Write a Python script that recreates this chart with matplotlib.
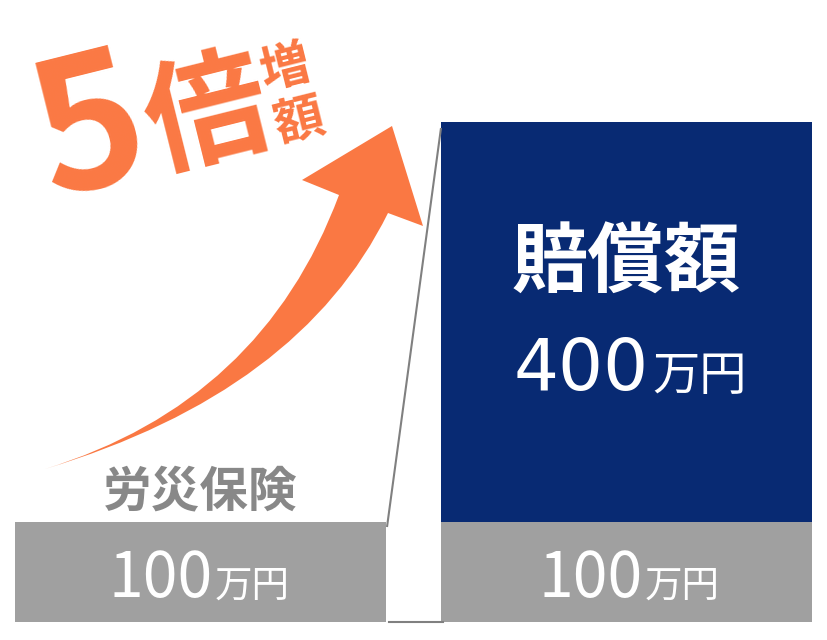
import numpy as np
import matplotlib.pyplot as plt
from matplotlib.path import Path
from matplotlib.patches import PathPatch

plt.rcParams['font.family'] = ['Noto Sans CJK JP', 'DejaVu Sans']

# ============================================================
# データ (万円)
# ============================================================
base_vals = [100, 100]        # 労災保険 / 賠償額の下段
extra_vals = [0, 400]         # 賠償額の上乗せ
base_labels = ['100', '100']
extra_label = '400'
unit = '万円'

# 色
GRAY = '#a0a0a0'
NAVY = '#082a73'
ORANGE = '#fa7843'
TEXT_GRAY = '#888888'

# 画像は 828x640 px, 縦軸は 1万円 = 1px, 0 が y=622px
fig = plt.figure(figsize=(8.28, 6.4), dpi=100)
ax = fig.add_axes([0, 0, 1, 1])
ax.set_xlim(0, 828)
ax.set_ylim(-18, 622)
ax.axis('off')


def py(y):
    # 画像の y(px) -> データ座標
    return 622 - y


x_pos = [200.5, 626.5]
bar_w = 371

ax.bar(x_pos, base_vals, width=bar_w, color=GRAY, bottom=0)
ax.bar(x_pos, extra_vals, width=bar_w, color=NAVY, bottom=base_vals)

# 補助線
left_top = base_vals[0]
right_top = base_vals[1] + extra_vals[1]
ax.plot([x_pos[0] + bar_w / 2 + 1, x_pos[1] - bar_w / 2], [left_top - 5, right_top - 6],
        color='#808080', lw=1.5, solid_capstyle='butt')
ax.plot([x_pos[0] + bar_w / 2 + 3, x_pos[1] - bar_w / 2 + 2], [0.5, 0.5],
        color='#808080', lw=1.5)

# ============================================================
# 矢印 (画像座標で形を作る)
# ============================================================
pts = [
    (45, 469),            # 尾
    (262, 402), (339, 195),  # 上側の縁
    (302, 180),           # 返し
    (392, 126),           # 先端
    (423, 226),           # 返し
    (388, 213),
    (300, 392), (45, 469),   # 下側の縁
]
codes = [Path.MOVETO, Path.CURVE3, Path.CURVE3, Path.LINETO, Path.LINETO,
         Path.LINETO, Path.LINETO, Path.CURVE3, Path.CURVE3]
verts = [(x, py(y)) for x, y in pts]
ax.add_patch(PathPatch(Path(verts, codes), facecolor=ORANGE, edgecolor='none'))

# ============================================================
# テキスト
# ============================================================
rot = 14
ax.text(90, py(132), '5', fontsize=132, fontweight='bold', color=ORANGE,
        ha='center', va='center', rotation=rot, rotation_mode='anchor')
ax.text(208, py(118), '倍', fontsize=88, fontweight='bold', color=ORANGE,
        ha='center', va='center', rotation=rot, rotation_mode='anchor')
ax.text(286, py(69), '増', fontsize=36, fontweight='bold', color=ORANGE,
        ha='center', va='center', rotation=rot, rotation_mode='anchor')
ax.text(299, py(121), '額', fontsize=36, fontweight='bold', color=ORANGE,
        ha='center', va='center', rotation=rot, rotation_mode='anchor')

ax.text(x_pos[0], py(492), '労災保険', fontsize=35, fontweight='bold',
        color=TEXT_GRAY, ha='center', va='center')

# 100万円
splits = [213, 643]
for s, lab in zip(splits, base_labels):
    ax.text(s, py(597), lab, fontsize=45, color='white', ha='right', va='baseline')
    ax.text(s + 2, py(597), unit, fontsize=27, color='white', ha='left', va='baseline')

# 賠償額 400万円
ax.text(x_pos[1], py(264), '賠償額', fontsize=55, fontweight='bold',
        color='white', ha='center', va='center')
ax.text(649, py(390), extra_label, fontsize=51, color='white', ha='right',
        va='baseline', family='DejaVu Sans')
ax.text(652, py(390), unit, fontsize=34, color='white', ha='left', va='baseline')

fig.savefig('out.png', dpi=100)
